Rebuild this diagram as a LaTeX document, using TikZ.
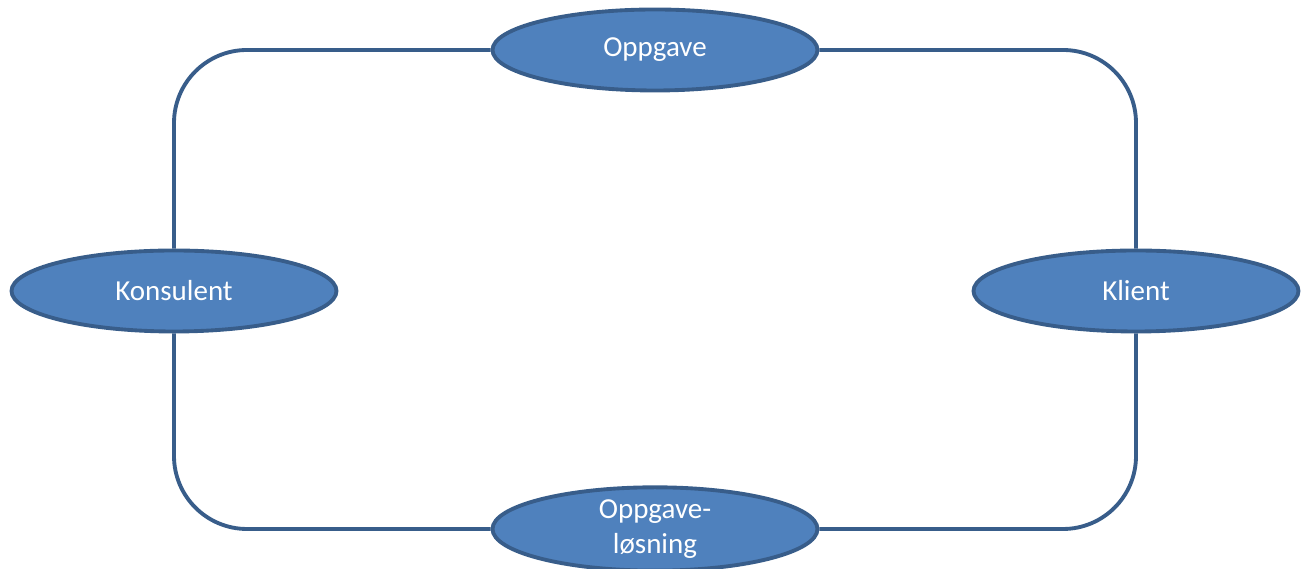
\documentclass[tikz,border=0pt]{standalone}
\usepackage{fontspec}
\setmainfont{Carlito}
\usetikzlibrary{shapes.geometric}
\definecolor{fillblue}{HTML}{4F81BD}
\definecolor{lineblue}{HTML}{385D8A}
\tikzset{
  rolle/.style={ellipse, draw=lineblue, line width=2.2pt, fill=fillblue, text=white,
    minimum width=6.5cm, minimum height=1.62cm, inner sep=0pt, align=center,
    font=\fontsize{16.5}{20}\selectfont},
  kant/.style={draw=lineblue, line width=2.2pt, rounded corners=1.46cm}
}
\begin{document}
\begin{tikzpicture}
    \useasboundingbox (0,0) rectangle (26.12,11.38);

    \node[rolle] (opp) at (13.1,10.38) {Oppgave};
    \node[rolle] (los) at (13.1,0.8) {Oppgave-\\løsning};
    \node[rolle] (kons) at (3.48,5.56) {Konsulent};
    \node[rolle] (kli) at (22.72,5.56) {Klient};

    \draw[kant] (kons.north) |- (opp.west);
    \draw[kant] (opp.east) -| (kli.north);
    \draw[kant] (kli.south) |- (los.east);
    \draw[kant] (los.west) -| (kons.south);
\end{tikzpicture}
\end{document}
